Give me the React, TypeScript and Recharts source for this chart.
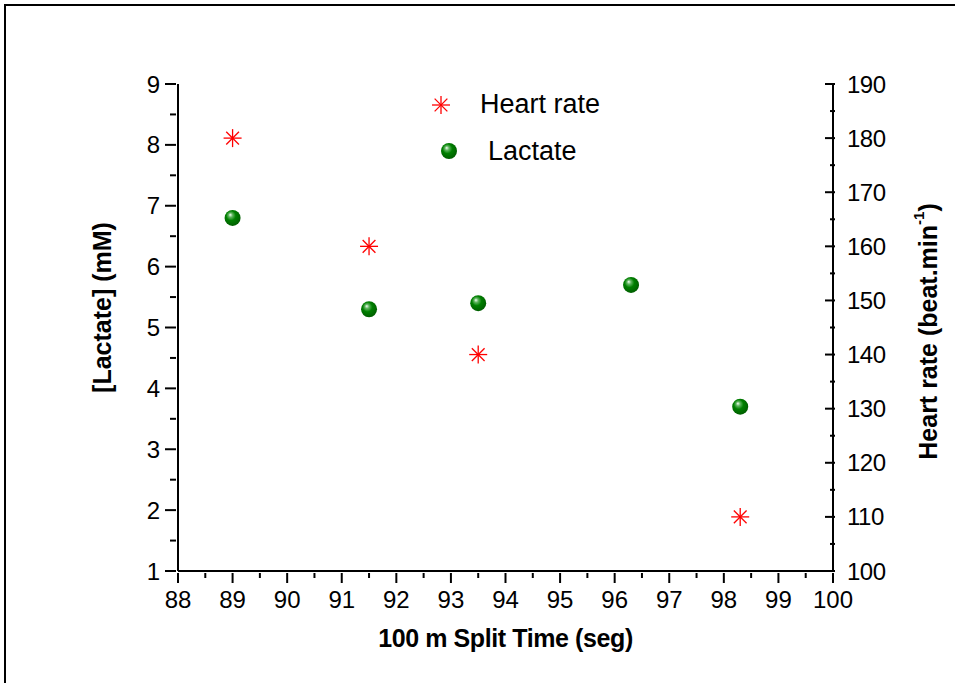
import React from 'react';
import { ScatterChart, Scatter, XAxis, YAxis, Legend } from 'recharts';

// split times (s) and readings
const HR_TIME = [89, 91.5, 93.5, 98.3];
const HR_VALUES = [180, 160, 140, 110];
const LACTATE_TIME = [89, 91.5, 93.5, 96.3, 98.3];
const LACTATE_VALUES = [6.8, 5.3, 5.4, 5.7, 3.7];

const X_TICKS = [88, 88.5, 89, 89.5, 90, 90.5, 91, 91.5, 92, 92.5, 93, 93.5, 94, 94.5, 95, 95.5, 96, 96.5, 97, 97.5, 98, 98.5, 99, 99.5, 100];
const LACTATE_TICKS = [1, 1.5, 2, 2.5, 3, 3.5, 4, 4.5, 5, 5.5, 6, 6.5, 7, 7.5, 8, 8.5, 9];
const HR_TICKS = [100, 105, 110, 115, 120, 125, 130, 135, 140, 145, 150, 155, 160, 165, 170, 175, 180, 185, 190];

const hrData = HR_TIME.map((t, i) => ({ time: t, hr: HR_VALUES[i] }));
const lactateData = LACTATE_TIME.map((t, i) => ({ time: t, lactate: LACTATE_VALUES[i] }));

const FONT = 'Arial, "Liberation Sans", sans-serif';

const BallGradient = () => (
  <defs>
    <radialGradient id="ballGrad" cx="45%" cy="42%" r="60%" fx="35%" fy="30%">
      <stop offset="0%" stopColor="#f4fff4" />
      <stop offset="22%" stopColor="#5fb55f" />
      <stop offset="50%" stopColor="#008000" />
      <stop offset="100%" stopColor="#005c00" />
    </radialGradient>
  </defs>
);

const Asterisk = ({ cx, cy, r = 9 }: any) => {
  const d = r * 0.7071;
  return (
    <g stroke="#ff0000" strokeWidth={1.3}>
      <line x1={cx - r} y1={cy} x2={cx + r} y2={cy} />
      <line x1={cx} y1={cy - r} x2={cx} y2={cy + r} />
      <line x1={cx - d} y1={cy - d} x2={cx + d} y2={cy + d} />
      <line x1={cx - d} y1={cy + d} x2={cx + d} y2={cy - d} />
    </g>
  );
};

const Ball = ({ cx, cy }: any) => (
  <g>
    <BallGradient />
    <circle cx={cx} cy={cy} r={8} fill="url(#ballGrad)" />
  </g>
);

const BottomTick = ({ x, y, payload }: any) => {
  const v = payload.value;
  const major = Number.isInteger(v);
  return (
    <g>
      <line x1={x} x2={x} y1={y} y2={y + (major ? 10 : 5)} stroke="#000" strokeWidth={2} />
      {major && (
        <text x={x} y={y + 26} textAnchor="middle" dominantBaseline="central" fontSize={24} fontFamily={FONT} fill="#000">
          {v}
        </text>
      )}
    </g>
  );
};

const LeftTick = ({ x, y, payload }: any) => {
  const v = payload.value;
  const major = Number.isInteger(v);
  return (
    <g>
      <line x1={x - (major ? 11 : 6)} x2={x} y1={y} y2={y} stroke="#000" strokeWidth={2} />
      {major && (
        <text x={x - 16} y={y} textAnchor="end" dominantBaseline="central" fontSize={24} fontFamily={FONT} fill="#000">
          {v}
        </text>
      )}
    </g>
  );
};

const RightTick = ({ x, y, payload }: any) => {
  const v = payload.value;
  const major = v % 10 === 0;
  return (
    <g>
      <line x1={x - (major ? 10 : 5)} x2={x} y1={y} y2={y} stroke="#000" strokeWidth={2} />
      {major && (
        <text x={x + 12} y={y} textAnchor="start" dominantBaseline="central" fontSize={24} fontFamily={FONT} fill="#000" letterSpacing={-0.5}>
          {v}
        </text>
      )}
    </g>
  );
};

const XTitle = ({ viewBox }: any) => (
  <text x={viewBox.x + viewBox.width / 2} y={viewBox.y + 76} textAnchor="middle" fontSize={25} fontWeight="bold" fontFamily={FONT} letterSpacing={-0.4}>
    100 m Split Time (seg)
  </text>
);

const LeftTitle = ({ viewBox }: any) => {
  const cx = viewBox.x + 102;
  const cy = viewBox.y + viewBox.height / 2 - 20;
  return (
    <text x={cx} y={cy} transform={`rotate(-90, ${cx}, ${cy})`} textAnchor="middle" dominantBaseline="central" fontSize={25} fontWeight="bold" fontFamily={FONT}>
      [Lactate] (mM)
    </text>
  );
};

const RightTitle = ({ viewBox }: any) => {
  const cx = viewBox.x + 95;
  const cy = viewBox.y + viewBox.height / 2 + 4;
  return (
    <text x={cx} y={cy} transform={`rotate(-90, ${cx}, ${cy})`} textAnchor="middle" dominantBaseline="central" fontSize={25} fontWeight="bold" fontFamily={FONT}>
      Heart rate (beat.min
      <tspan fontSize={15} dy={-10}>-1</tspan>
      <tspan dy={10}>)</tspan>
    </text>
  );
};

const LegendBox = () => (
  <svg width={200} height={90} style={{ display: 'block' }}>
    <BallGradient />
    <Asterisk cx={21} cy={21} />
    <text x={60} y={29} fontSize={27} fontFamily={FONT} fill="#000">Heart rate</text>
    <circle cx={29} cy={67} r={8} fill="url(#ballGrad)" />
    <text x={68} y={76} fontSize={27} fontFamily={FONT} fill="#000">Lactate</text>
  </svg>
);

export default function App() {
  return (
    <div style={{ position: 'absolute', left: 0, top: 0, width: 955, height: 683, background: '#fff' }}>
      <div style={{ position: 'absolute', left: 4, top: 4, right: 0, bottom: 0, borderTop: '2px solid #000', borderLeft: '2px solid #000' }} />
      <ScatterChart width={955} height={683} margin={{ top: 84, right: 0, bottom: 0, left: 0 }} style={{ fontFamily: FONT }}>
        <XAxis
          type="number"
          dataKey="time"
          domain={[88, 100]}
          ticks={X_TICKS}
          interval={0}
          height={112}
          tickSize={0}
          tickLine={false}
          tick={<BottomTick />}
          axisLine={{ stroke: '#000', strokeWidth: 2 }}
          label={<XTitle />}
        />
        <YAxis
          yAxisId="lac"
          orientation="left"
          type="number"
          dataKey="lactate"
          domain={[1, 9]}
          ticks={LACTATE_TICKS}
          interval={0}
          width={178}
          tickSize={0}
          tickLine={false}
          tick={<LeftTick />}
          axisLine={{ stroke: '#000', strokeWidth: 2 }}
          label={<LeftTitle />}
        />
        <YAxis
          yAxisId="hr"
          orientation="right"
          type="number"
          dataKey="hr"
          domain={[100, 190]}
          ticks={HR_TICKS}
          interval={0}
          width={122}
          tickSize={0}
          tickLine={false}
          tick={<RightTick />}
          axisLine={{ stroke: '#000', strokeWidth: 2 }}
          label={<RightTitle />}
        />
        <Legend
          layout="vertical"
          align="center"
          verticalAlign="middle"
          content={<LegendBox />}
          wrapperStyle={{ left: 420, top: 84, width: 200, height: 90 }}
        />
        <Scatter name="Heart rate" yAxisId="hr" data={hrData} dataKey="hr" shape={<Asterisk />} isAnimationActive={false} />
        <Scatter name="Lactate" yAxisId="lac" data={lactateData} dataKey="lactate" shape={<Ball />} isAnimationActive={false} />
      </ScatterChart>
    </div>
  );
}
